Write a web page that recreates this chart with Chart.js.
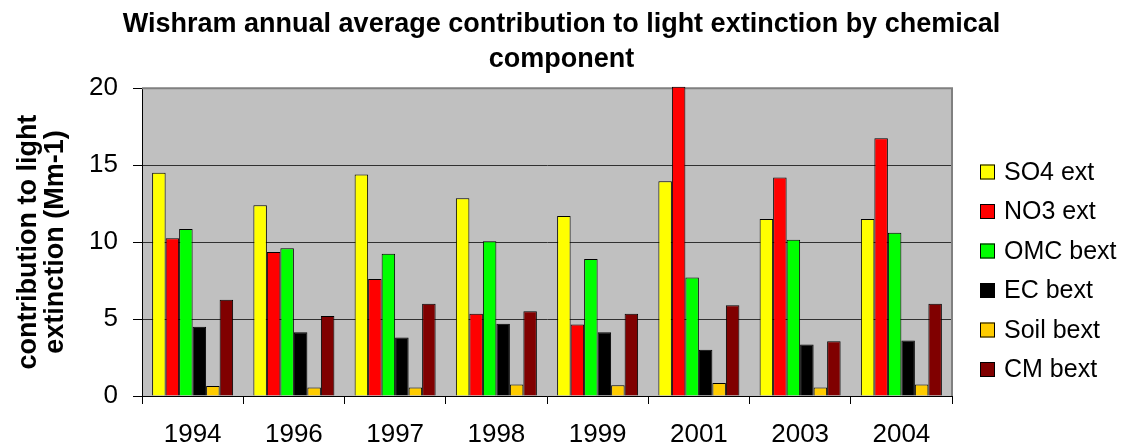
<!DOCTYPE html>
<html lang="en">
<head>
  <meta charset="UTF-8">
  <title>Wishram light extinction</title>
  <script src="https://cdn.jsdelivr.net/npm/chart.js"></script>
  <style>
    html, body { margin: 0; padding: 0; background: #fff; }
    #wrap { width: 1123px; height: 447px; position: relative; }
  </style>
</head>
<body>
  <div id="wrap"><canvas id="chart" width="1123" height="447"></canvas></div>

  <script>
    // data
    const years = ['1994', '1996', '1997', '1998', '1999', '2001', '2003', '2004'];
    const so4  = [14.5, 12.4, 14.4, 12.85, 11.7, 13.95, 11.5, 11.5];
    const no3  = [10.25, 9.35, 7.6, 5.35, 4.65, 20.1, 14.2, 16.75];
    const omc  = [10.85, 9.6, 9.25, 10.05, 8.9, 7.7, 10.15, 10.6];
    const ec   = [4.5, 4.15, 3.8, 4.7, 4.15, 3.0, 3.35, 3.6];
    const soil = [0.65, 0.55, 0.55, 0.75, 0.7, 0.85, 0.55, 0.75];
    const cm   = [6.25, 5.2, 6.0, 5.5, 5.35, 5.9, 3.55, 6.0];
    const seriesNames = ['SO4 ext', 'NO3 ext', 'OMC bext', 'EC bext', 'Soil bext', 'CM bext'];
    const seriesColors = ['#ffff00', '#ff0000', '#00ff00', '#000000', '#ffcc00', '#800000'];
    const yTicks = [0, 5, 10, 15, 20];

    const FONT = '"Liberation Sans", Arial, sans-serif';
    const series = [so4, no3, omc, ec, soil, cm];

    const datasets = series.map((vals, i) => ({
      label: seriesNames[i],
      data: vals,
      backgroundColor: seriesColors[i],
      borderColor: '#000',
      borderWidth: 1,
      borderSkipped: 'bottom',
      categoryPercentage: 0.8,
      barPercentage: 1.0,
      clip: false
    }));

    // grey plot area, grey top/right frame
    const plotFrame = {
      id: 'plotFrame',
      beforeDraw(chart) {
        const a = chart.chartArea, c = chart.ctx;
        c.save();
        c.fillStyle = '#c0c0c0';
        c.fillRect(a.left, a.top, a.right - a.left, a.bottom - a.top);
        c.restore();
      },
      beforeDatasetsDraw(chart) {
        const a = chart.chartArea, c = chart.ctx;
        c.save();
        c.strokeStyle = '#808080';
        c.lineWidth = 2;
        c.beginPath();
        c.moveTo(a.left, a.top);
        c.lineTo(a.right, a.top);
        c.lineTo(a.right, a.bottom);
        c.stroke();
        c.restore();
      }
    };

    // legend on the right, drawn item by item
    const sideLegend = {
      id: 'sideLegend',
      afterDraw(chart) {
        const c = chart.ctx;
        const a = chart.chartArea;
        const x0 = a.right + 28, y0 = 172, step = 39.5, box = 15;
        c.save();
        c.font = '25px ' + FONT;
        c.textBaseline = 'middle';
        chart.data.datasets.forEach((ds, i) => {
          const y = y0 + i * step;
          c.fillStyle = ds.backgroundColor;
          c.fillRect(x0, y - box / 2, box, box);
          c.strokeStyle = '#000';
          c.lineWidth = 1;
          c.strokeRect(x0 + 0.5, y - box / 2 + 0.5, box - 1, box - 1);
          c.fillStyle = '#000';
          c.fillText(ds.label, x0 + 24, y + 1);
        });
        c.restore();
      }
    };

    new Chart(document.getElementById('chart'), {
      type: 'bar',
      data: { labels: years, datasets },
      plugins: [plotFrame, sideLegend],
      options: {
        responsive: false,
        animation: false,
        devicePixelRatio: 1,
        layout: { padding: 0 },
        plugins: {
          legend: { display: false },
          tooltip: { enabled: false },
          title: {
            display: true,
            text: ['Wishram annual average contribution to light extinction by chemical', 'component'],
            color: '#000',
            font: { family: FONT, size: 27, weight: 'bold', lineHeight: 1.3 },
            padding: { top: 7, bottom: 11 }
          }
        },
        scales: {
          x: {
            grid: {
              offset: true,
              drawOnChartArea: false,
              drawTicks: true,
              tickLength: 8,
              tickColor: '#000',
              color: '#000'
            },
            border: { color: '#000', width: 1 },
            ticks: {
              color: '#000',
              font: { family: FONT, size: 26 },
              padding: 15,
              maxRotation: 0
            },
            afterFit: s => { s.height = 51; }
          },
          y: {
            min: 0,
            max: 20,
            afterBuildTicks: s => { s.ticks = yTicks.map(v => ({ value: v })); },
            grid: {
              color: '#303030',
              lineWidth: 1,
              drawTicks: true,
              tickLength: 9,
              tickColor: '#000'
            },
            border: { color: '#000', width: 1 },
            ticks: {
              color: '#000',
              font: { family: FONT, size: 26 },
              padding: 15
            },
            title: {
              display: true,
              text: ['contribution to light', 'extinction (Mm-1)'],
              color: '#000',
              font: { family: FONT, size: 27, weight: 'bold', lineHeight: 1.0 },
              padding: { top: 15, bottom: 0 }
            },
            afterFit: s => { s.width = 142; }
          },
          // empty right-hand box that keeps room for the legend
          side: {
            position: 'right',
            display: true,
            grid: { display: false },
            border: { display: false },
            ticks: { display: false },
            afterFit: s => { s.width = 171; }
          }
        }
      }
    });
  </script>
</body>
</html>
